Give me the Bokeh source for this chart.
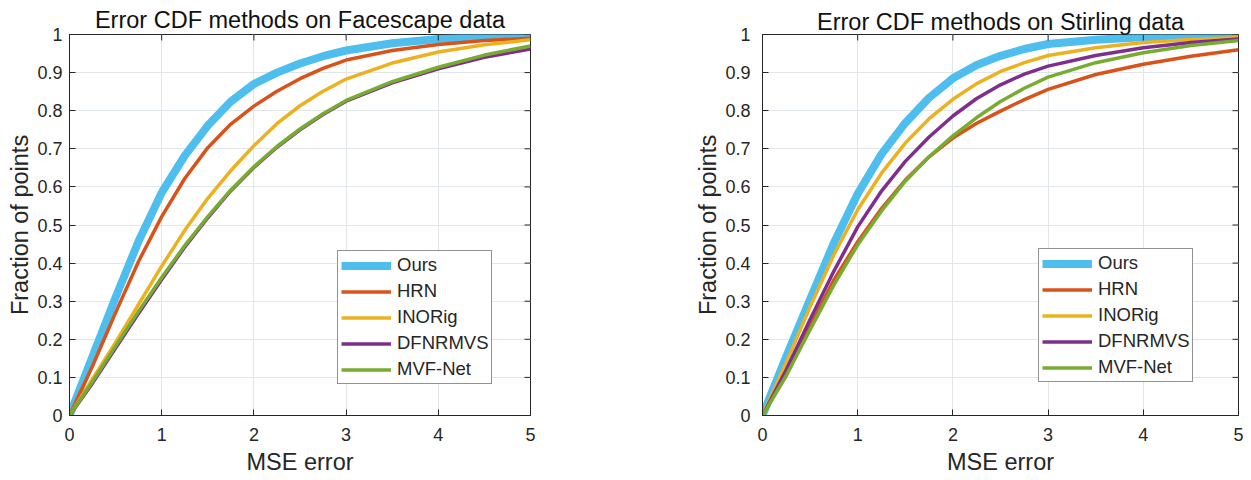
import math
from bokeh.plotting import figure
from bokeh.layouts import row
from bokeh.models import (Range1d, FixedTicker, CustomJSTickFormatter, Legend, LegendItem)
from bokeh.embed import file_html
from bokeh.resources import INLINE

# ---------------- data ----------------
methods = ["Ours", "HRN", "INORig", "DFNRMVS", "MVF-Net"]
colors = ["#4DBEEE", "#D95319", "#EDB120", "#7E2F8E", "#77AC30"]
widths = [8, 3.5, 3.5, 3.5, 3.5]

mse = [0, 0.25, 0.5, 0.75, 1, 1.25, 1.5, 1.75, 2, 2.25, 2.5, 2.75, 3, 3.5, 4, 4.5, 5]

face_ours = [0, 0.155, 0.31, 0.458, 0.585, 0.682, 0.761, 0.824, 0.87, 0.9, 0.924, 0.943, 0.958, 0.977, 0.988, 0.994, 0.997]
face_hrn = [0, 0.13, 0.27, 0.405, 0.522, 0.622, 0.703, 0.765, 0.812, 0.851, 0.884, 0.911, 0.933, 0.958, 0.974, 0.984, 0.99]
face_inorig = [0, 0.096, 0.192, 0.292, 0.392, 0.486, 0.57, 0.643, 0.708, 0.766, 0.813, 0.851, 0.883, 0.925, 0.954, 0.973, 0.986]
face_dfnrmvs = [0, 0.085, 0.177, 0.268, 0.357, 0.442, 0.519, 0.59, 0.651, 0.704, 0.75, 0.79, 0.825, 0.873, 0.91, 0.94, 0.962]
face_mvfnet = [0, 0.089, 0.182, 0.274, 0.362, 0.446, 0.522, 0.592, 0.653, 0.706, 0.752, 0.792, 0.827, 0.876, 0.914, 0.946, 0.97]

stir_ours = [0, 0.155, 0.305, 0.453, 0.582, 0.686, 0.768, 0.834, 0.885, 0.92, 0.944, 0.962, 0.975, 0.986, 0.993, 0.996, 0.998]
stir_hrn = [0, 0.106, 0.235, 0.356, 0.456, 0.543, 0.618, 0.679, 0.728, 0.767, 0.799, 0.829, 0.856, 0.895, 0.922, 0.943, 0.96]
stir_inorig = [0, 0.14, 0.285, 0.422, 0.54, 0.636, 0.715, 0.779, 0.83, 0.871, 0.903, 0.926, 0.945, 0.965, 0.979, 0.987, 0.992]
stir_dfnrmvs = [0, 0.12, 0.252, 0.379, 0.495, 0.589, 0.667, 0.731, 0.786, 0.832, 0.868, 0.896, 0.917, 0.945, 0.965, 0.979, 0.988]
stir_mvfnet = [0, 0.105, 0.225, 0.343, 0.448, 0.537, 0.615, 0.679, 0.734, 0.782, 0.824, 0.859, 0.888, 0.926, 0.952, 0.971, 0.984]

x_ticks = [0, 1, 2, 3, 4, 5]
y_ticks = [0, 0.1, 0.2, 0.3, 0.4, 0.5, 0.6, 0.7, 0.8, 0.9, 1]

FONT = "Liberation Sans"
DARK = "#262626"
GRID = "#e1e6eb"


def style_axis(ax):
    ax.major_tick_in = 6
    ax.major_tick_out = 0
    ax.minor_tick_line_color = None
    ax.axis_line_color = DARK
    ax.major_tick_line_color = DARK
    ax.major_label_text_color = DARK
    ax.major_label_text_font = FONT
    ax.major_label_text_font_size = "18px"
    ax.axis_label_text_font = FONT
    ax.axis_label_text_font_size = "23.5px"
    ax.axis_label_text_font_style = "normal"
    ax.axis_label_text_color = DARK


def make_plot(title, series, width, borders, legend_loc, title_standoff, y_standoff):
    p = figure(width=width, height=478, x_range=Range1d(0, 5), y_range=Range1d(0, 1),
               output_backend="svg", toolbar_location=None,
               min_border_left=borders[0], min_border_right=borders[1],
               min_border_top=borders[2], min_border_bottom=borders[3])
    p.title.text = title
    p.title.text_font = FONT
    p.title.text_font_size = "23.5px"
    p.title.text_font_style = "normal"
    p.title.text_color = "#111111"
    p.title.align = "center"
    p.title.standoff = title_standoff
    p.outline_line_color = DARK
    p.background_fill_color = "white"
    p.border_fill_color = "white"

    p.xaxis.ticker = FixedTicker(ticks=x_ticks)
    p.xaxis.axis_label = "MSE error"
    p.xaxis.major_label_standoff = 12
    p.xaxis.axis_label_standoff = 5
    p.yaxis.ticker = FixedTicker(ticks=y_ticks)
    p.yaxis.formatter = CustomJSTickFormatter(code="return Number(tick.toFixed(1)).toString();")
    p.yaxis.axis_label = "Fraction of points"
    p.yaxis.major_label_standoff = y_standoff
    p.yaxis.axis_label_standoff = 1
    style_axis(p.xaxis[0])
    style_axis(p.yaxis[0])

    p.xgrid.ticker = FixedTicker(ticks=x_ticks)
    p.ygrid.ticker = FixedTicker(ticks=y_ticks)
    p.grid.grid_line_color = GRID
    p.grid.grid_line_width = 1

    items = []
    for name, ys, c, w in zip(methods, series, colors, widths):
        r = p.line(mse, ys, line_color=c, line_width=w, line_join="round")
        items.append(LegendItem(label=name, renderers=[r]))

    # inward ticks on the top and right edges of the box (MATLAB style)
    p.ray(x=x_ticks, y=[1] * len(x_ticks), length=6, length_units="screen",
          angle=-math.pi / 2, line_color=DARK, line_width=1)
    p.ray(x=[5] * len(y_ticks), y=y_ticks, length=6, length_units="screen",
          angle=math.pi, line_color=DARK, line_width=1)

    legend = Legend(items=items, location=legend_loc)
    legend.label_text_font = FONT
    legend.label_text_font_size = "18.5px"
    legend.label_text_color = DARK
    legend.glyph_width = 50
    legend.glyph_height = 21
    legend.label_height = 21
    legend.spacing = 4
    legend.padding = 3
    legend.margin = 0
    legend.label_standoff = 6
    legend.border_line_color = DARK
    legend.border_line_width = 1
    legend.background_fill_color = "white"
    legend.background_fill_alpha = 1
    p.add_layout(legend)
    return p


p1 = make_plot("Error CDF methods on Facescape data",
               [face_ours, face_hrn, face_inorig, face_dfnrmvs, face_mvfnet],
               650, (69, 120, 34, 63), (268, 31), 4, 7)
p2 = make_plot("Error CDF methods on Stirling data",
               [stir_ours, stir_hrn, stir_inorig, stir_dfnrmvs, stir_mvfnet],
               600, (112, 12, 28, 57), (276, 33), 0, 12)

layout = row(p1, p2)
open("out.html", "w").write(file_html(layout, INLINE))
